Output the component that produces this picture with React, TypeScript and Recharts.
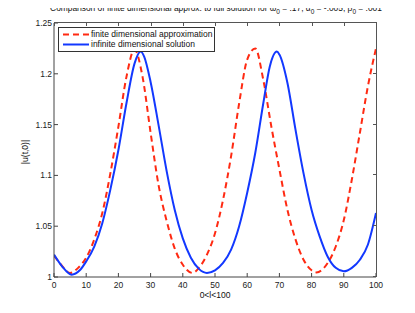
import React from 'react';
import { LineChart, Line, XAxis, YAxis, Legend } from 'recharts';

const xTicks = [0, 10, 20, 30, 40, 50, 60, 70, 80, 90, 100];
const yTicks = [1, 1.05, 1.1, 1.15, 1.2, 1.25];

// finite dimensional approximation (red dashed)
const finiteX = [0, 2.5, 5, 7.5, 10, 12.5, 15, 17.5, 20, 22.5, 25, 27.5, 30, 32.5, 35, 37.5, 40, 43, 45, 47.5, 50,
    52.5, 55, 57.5, 60, 62.5, 65, 67.5, 70, 72.5, 75, 77.5, 80, 81.5, 85, 87.5, 90, 92.5, 95, 97.5, 100];
const finiteY = [1.021, 1.011, 1.004, 1.009, 1.019, 1.037, 1.063, 1.102, 1.148, 1.197, 1.224, 1.197, 1.142, 1.09,
    1.055, 1.028, 1.012, 1.004, 1.009, 1.022, 1.043, 1.076, 1.119, 1.171, 1.214, 1.225, 1.194, 1.148, 1.106, 1.066,
    1.037, 1.017, 1.0066, 1.0045, 1.0138, 1.03, 1.056, 1.096, 1.142, 1.188, 1.225];

// infinite dimensional solution (blue)
const infiniteX = [0, 2.5, 5.5, 8, 10, 12.5, 15, 17.5, 20, 22.5, 25, 26.9, 28, 30, 32.5, 35, 37.5, 40, 42.5, 45,
    47.5, 50, 52.5, 55, 57.5, 60, 62.5, 65, 67, 69.2, 70, 72.5, 75, 77.5, 80, 82.5, 85, 87.5, 90, 92.5, 95, 97.5, 100];
const infiniteY = [1.022, 1.0105, 1.0023, 1.0066, 1.0154, 1.03, 1.053, 1.086, 1.125, 1.171, 1.21, 1.222, 1.217,
    1.192, 1.149, 1.104, 1.066, 1.038, 1.019, 1.008, 1.004, 1.0066, 1.0138, 1.027, 1.05, 1.083, 1.122, 1.171, 1.207,
    1.222, 1.219, 1.191, 1.145, 1.102, 1.066, 1.04, 1.02, 1.009, 1.0056, 1.009, 1.017, 1.032, 1.063];

const finiteData = finiteX.map((x, i) => ({ x, y: finiteY[i] }));
const infiniteData = infiniteX.map((x, i) => ({ x, y: infiniteY[i] }));

const RED = '#ff2a12';
const BLUE = '#1238ff';
const AXIS = '#444';
const FONT = '"Liberation Sans", Arial, Helvetica, sans-serif';
const tickStyle = { fontSize: 8.5, fill: '#222', fontFamily: FONT };

// plot box, matches the chart margins below
const PL = 54, PT = 23, PW = 322, PH = 254;

function LegendBox() {
    return (
        <div style={{ boxSizing: 'border-box', width: 157, height: 25, border: '1px solid #333', background: '#fff', fontFamily: FONT, fontSize: 8.5, color: '#111', position: 'relative' }}>
            <svg width={32} height={23} style={{ position: 'absolute', left: 0, top: 0 }}>
                <line x1={4} x2={30} y1={6.5} y2={6.5} stroke={RED} strokeWidth={2} strokeDasharray="6 4" />
                <line x1={4} x2={30} y1={16.5} y2={16.5} stroke={BLUE} strokeWidth={2} />
            </svg>
            <div style={{ position: 'absolute', left: 32, top: 1, lineHeight: '10px', whiteSpace: 'nowrap' }}>finite dimensional approximation</div>
            <div style={{ position: 'absolute', left: 32, top: 11, lineHeight: '10px', whiteSpace: 'nowrap' }}>infinite dimensional solution</div>
        </div>
    );
}

// top and right edges of the matlab-style box, with inward ticks (plain css borders)
function BoxEdges() {
    return (
        <>
            <div style={{ position: 'absolute', left: PL, top: PT - 1, width: PW, height: PH, borderTop: '1px solid #555', borderRight: '1px solid #555', pointerEvents: 'none' }} />
            {xTicks.map(t => (
                <div key={'t' + t} style={{ position: 'absolute', left: Math.round(PL + (t / 100) * PW), top: PT, width: 1, height: 3, background: '#555' }} />
            ))}
            {yTicks.map(t => (
                <div key={'r' + t} style={{ position: 'absolute', left: PL + PW - 3, top: Math.round(PT + PH - ((t - 1) / 0.25) * PH) - 1, width: 3, height: 1, background: '#555' }} />
            ))}
        </>
    );
}

export default function App() {
    return (
        <div style={{ position: 'relative', margin: -8, width: 415, height: 313, background: '#fff', fontFamily: FONT }}>
            <div style={{ position: 'absolute', left: 0, width: 432, top: 3, textAlign: 'center', fontSize: 8.4, color: '#111', whiteSpace: 'nowrap' }}>
                Comparison of finite dimensional approx. to full solution for ω<sub style={{ fontSize: 6.5 }}>0</sub> = .17,
                α<sub style={{ fontSize: 6.5 }}>0</sub> = -.005, β<sub style={{ fontSize: 6.5 }}>0</sub> = .001
            </div>
            <div style={{ position: 'absolute', left: 25, top: 152, transform: 'translate(-50%, -50%) rotate(-90deg)', fontSize: 8.5, color: '#111', whiteSpace: 'nowrap' }}>
                |u(t,0)|
            </div>
            <div style={{ position: 'absolute', left: 215, top: 295, transform: 'translate(-50%, -50%)', fontSize: 8.5, color: '#111', whiteSpace: 'nowrap' }}>
                0&lt;l&lt;100
            </div>
            <LineChart width={415} height={313} margin={{ top: PT, right: 415 - PL - PW, bottom: 6, left: 24 }}>
                <XAxis dataKey="x" type="number" domain={[0, 100]} ticks={xTicks} allowDataOverflow
                    stroke={AXIS} tick={tickStyle} tickSize={-4} tickMargin={9} height={30} />
                <YAxis type="number" domain={[1, 1.25]} ticks={yTicks} allowDataOverflow stroke={AXIS} tick={tickStyle}
                    tickSize={-4} tickMargin={6} width={30} tickFormatter={(v: number) => String(v)} />
                <Line data={finiteData} dataKey="y" type="monotone" stroke={RED} strokeWidth={2} strokeDasharray="6 4"
                    dot={false} activeDot={false} isAnimationActive={false} />
                <Line data={infiniteData} dataKey="y" type="monotone" stroke={BLUE} strokeWidth={2}
                    dot={false} activeDot={false} isAnimationActive={false} />
                <Legend layout="vertical" align="center" verticalAlign="middle" content={() => <LegendBox />}
                    wrapperStyle={{ position: 'absolute', left: 58, top: 27, width: 157, height: 25 }} />
            </LineChart>
            <BoxEdges />
        </div>
    );
}
